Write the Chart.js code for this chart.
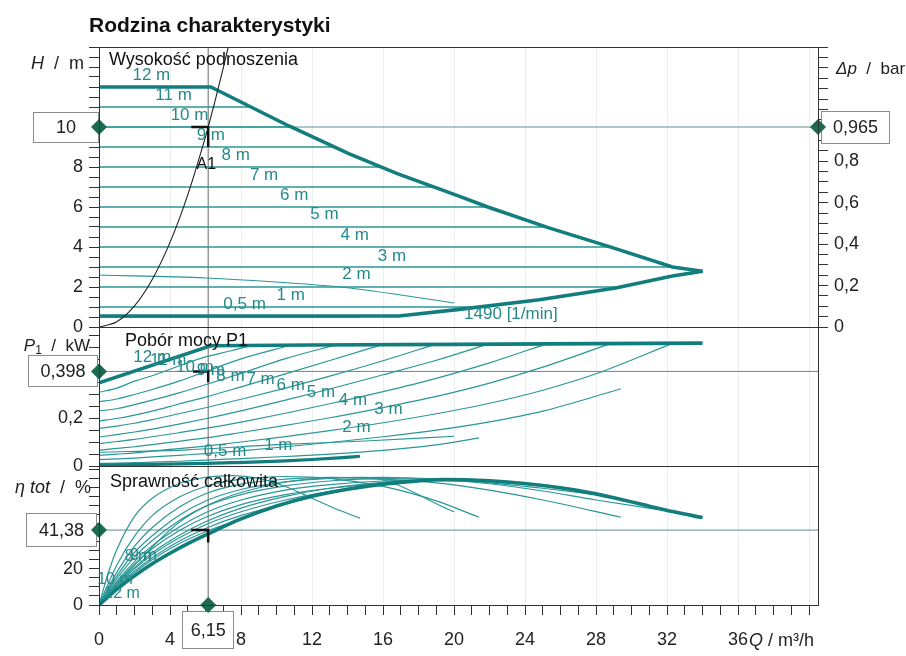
<!DOCTYPE html>
<html>
<head>
<meta charset="utf-8">
<title>Rodzina charakterystyki</title>
<script src="https://cdn.jsdelivr.net/npm/chart.js@4.4.1/dist/chart.umd.min.js"></script>
<style>
  html, body { margin: 0; padding: 0; background: #fff; }
  #wrap { position: relative; width: 906px; height: 656px; overflow: hidden; }
  #wrap canvas { position: absolute; left: 0; top: 0; }
</style>
</head>
<body>
<div id="wrap">
  <canvas id="cE" width="906" height="656"></canvas>
  <canvas id="cP" width="906" height="656"></canvas>
  <canvas id="cH" width="906" height="656"></canvas>
</div>
<script>
// ---------------- data ----------------
// constant differential pressure settings (m) and flow where each setting meets the max curve
const heads        = [12, 11, 10, 9, 8, 7, 6, 5, 4, 3, 2, 1, 0.5];
const headLineEndQ = [6.3, 8.6, 10.8, 13.3, 15.9, 18.9, 21.9, 25.2, 28.8, 32.3, 29.4, 21.4, 14.7];

// envelope of the family in the head diagram
const maxCurveQ = [0, 6.3, 10.7, 14.1, 16.8, 20.2, 21.9, 25.3, 28.7, 32.3, 34.0];
const maxCurveH = [12, 12, 10.05, 8.66, 7.67, 6.57, 6.0, 4.97, 4.03, 3.0, 2.79];
const minCurveQ = [0, 16.9, 20.3, 24.8, 29.1, 32.3, 34.0];
const minCurveH = [0.55, 0.55, 0.88, 1.36, 1.95, 2.55, 2.79];

// constant speed curve 1490 1/min
const speedQ      = [0, 6, 10, 13.6, 17, 20];
const speedH      = [2.6, 2.45, 2.25, 2.0, 1.6, 1.2];
const speedPowerQ = [0, 5, 10, 15, 20];
const speedPower  = [0.058, 0.068, 0.09, 0.105, 0.125];
const speedEtaQ   = [0, 2, 5, 10, 15, 20];
const speedEta    = [0, 22, 49, 67, 70.5, 51.5];

// system curve through the duty point
const systemQ = [0, 1, 2, 3, 4, 5, 6, 6.15, 6.5, 7, 7.28];
const systemH = [0, 0.26, 1.06, 2.38, 4.23, 6.61, 9.52, 10, 11.17, 12.96, 14];

// duty point A1
const dutyQ = 6.15, dutyH = 10, dutyP1 = 0.398, dutyEta = 41.38, dutyDp = 0.965;

// power input and efficiency along the max curve (12 m setting up to the knee)
const maxPowerQ = [0, 6.3, 12, 20, 28, 34];
const maxPower  = [0.35, 0.506, 0.509, 0.512, 0.515, 0.517];
const maxEtaQ = [0, 1, 2, 3, 4, 5, 6.3, 8, 10, 12, 14, 16, 18, 19.5, 21, 23, 25, 27, 29, 31, 32.3, 34];
const maxEta  = [0, 8.6, 16.1, 22.8, 28.6, 33.9, 40, 47.6, 54.7, 60.1, 64, 66.8, 68.6, 69.3, 69.1, 68, 66, 63.2, 59.3, 54.6, 51.6, 48.3];

// power input (kW) and total efficiency (%) of the settings 11 m ... 0,5 m
const curveQ = [
  [0, 1, 2, 3, 4.5, 6, 7.5, 8.6],
  [0, 1, 2, 3, 4.5, 6, 8, 10.8],
  [0, 1, 2, 3, 4.5, 6, 8, 10.5, 13.3],
  [0, 1, 2, 3, 4.5, 6, 8, 10.5, 13, 15.9],
  [0, 1, 2, 3, 4.5, 6, 8, 10.5, 13, 16, 18.9],
  [0, 1, 2, 3, 4.5, 6, 8, 10.5, 13, 16, 19, 21.9],
  [0, 1, 2, 3, 4.5, 6, 8, 10.5, 13, 16, 19, 22, 25.2],
  [0, 1, 2, 3, 4.5, 6, 8, 10.5, 13, 16, 19, 22, 25, 28.8],
  [0, 1, 2, 3, 4.5, 6, 8, 10.5, 13, 16, 19, 22, 25, 28, 32.3],
  [0, 1, 2, 3, 4.5, 6, 8, 10.5, 13, 16, 19, 22, 25, 29.4],
  [0, 1, 2, 3, 4.5, 6, 8, 10.5, 13, 16, 19, 21.4],
  [0, 0.5, 1, 2, 3, 4.5, 6, 7.5, 9, 10.5, 12, 13.5, 14.7]
];
const curvePower = [
  [0.31, 0.328, 0.357, 0.38, 0.421, 0.459, 0.486, 0.508],
  [0.27, 0.282, 0.301, 0.322, 0.357, 0.397, 0.451, 0.508],
  [0.232, 0.241, 0.258, 0.277, 0.308, 0.342, 0.39, 0.452, 0.509],
  [0.19, 0.2, 0.214, 0.231, 0.261, 0.29, 0.333, 0.388, 0.444, 0.51],
  [0.158, 0.168, 0.18, 0.195, 0.22, 0.245, 0.281, 0.328, 0.378, 0.443, 0.511],
  [0.122, 0.132, 0.143, 0.155, 0.176, 0.199, 0.232, 0.277, 0.324, 0.384, 0.445, 0.513],
  [0.094, 0.103, 0.112, 0.123, 0.14, 0.158, 0.185, 0.222, 0.262, 0.313, 0.369, 0.434, 0.514],
  [0.066, 0.074, 0.081, 0.09, 0.104, 0.118, 0.141, 0.171, 0.203, 0.246, 0.293, 0.349, 0.416, 0.515],
  [0.045, 0.05, 0.055, 0.063, 0.073, 0.084, 0.101, 0.124, 0.149, 0.182, 0.22, 0.264, 0.319, 0.388, 0.516],
  [0.027, 0.03, 0.033, 0.038, 0.045, 0.052, 0.064, 0.081, 0.099, 0.123, 0.151, 0.186, 0.231, 0.325],
  [0.011, 0.012, 0.014, 0.016, 0.02, 0.025, 0.031, 0.04, 0.05, 0.066, 0.089, 0.118],
  [0.0035, 0.0039, 0.0044, 0.0055, 0.0068, 0.009, 0.0114, 0.0141, 0.0172, 0.0215, 0.0273, 0.0345, 0.041]
];
const curveEta = [
  [0, 9, 16.5, 23.3, 31.5, 38.5, 45.5, 49.9],
  [0, 9.5, 17.8, 25, 33.8, 40.5, 47.5, 57],
  [0, 10, 18.7, 26.1, 35.2, 42.3, 49.5, 56, 63],
  [0, 10.7, 20, 27.8, 37, 44.3, 51.5, 58, 62.8, 66.8],
  [0, 11.2, 20.8, 28.9, 38.4, 46, 53.5, 60, 64.5, 67.8, 69.4],
  [0, 12.2, 22.5, 31.1, 41, 48.5, 55.5, 61, 64.5, 67, 68.6, 68.6],
  [0, 13, 24, 32.8, 43, 51, 58, 63.5, 66.5, 68.5, 69, 68, 65.7],
  [0, 14.5, 26.5, 35.6, 46.5, 54.5, 61, 65.8, 68.5, 69.8, 69.5, 67.5, 64.5, 60],
  [0, 16, 29, 38.3, 49.5, 57.5, 63.8, 68, 70, 70.5, 69.5, 67, 63, 58, 51.6],
  [0, 18, 32.5, 42.8, 54, 61.5, 66.8, 69.5, 70.5, 69.5, 67.5, 63.5, 58, 48.5],
  [0, 22, 38, 49.4, 59.5, 65.5, 69.5, 71, 70, 65.5, 57.5, 48.5],
  [0, 17, 30.5, 49, 59, 67, 70.5, 71.5, 70, 65.5, 59, 52.5, 48]
];

// tick labels
const hTickLabels   = [0, 2, 4, 6, 8];
const dpTickLabels  = [0, 0.2, 0.4, 0.6, 0.8];
const p1TickLabels  = [0, 0.2];
const etaTickLabels = [0, 20];
const qTickLabels   = [0, 4, 8, 12, 16, 20, 24, 28, 32, 36];

// where the setting names are written (flow, value)
const hLabelQ = [2.95, 4.2, 5.1, 6.3, 7.7, 9.3, 11.0, 12.7, 14.4, 16.5, 14.5, 10.8, 8.2];
const hLabelY = [12.56, 11.58, 10.6, 9.6, 8.6, 7.57, 6.6, 5.63, 4.57, 3.55, 2.62, 1.6, 1.15];
const pLabelQ = [3.0, 3.9, 5.4, 6.3, 7.4, 9.1, 10.8, 12.5, 14.3, 16.3, 14.5, 10.1, 7.1];
const pLabelY = [0.459, 0.445, 0.417, 0.404, 0.378, 0.364, 0.341, 0.31, 0.275, 0.24, 0.162, 0.087, 0.062];
const eLabelText = ['12 m', '8 m', '9 m', '10 m'];
const eLabelQ = [1.3, 2.2, 2.5, 0.9];
const eLabelY = [6.5, 26.5, 27.5, 14];

// ---------------- look ----------------
const FONT = '"Liberation Sans", Arial, Helvetica, sans-serif';
const TEAL = '#2a9797', TEAL_DARK = '#127d7d', LABEL = '#278a8a', MARK = '#1c6a4f', REF = '#5e8e8e', INK = '#222';
const PLOT_LEFT = 99, PLOT_RIGHT = 818, Q_MAX = 40.5;
const H_MAX = 14, P_MAX = 0.585, E_MAX = 76.8;
const dpPerMetre = dutyDp / dutyH;

Chart.defaults.font.family = FONT;
Chart.defaults.color = INK;
Chart.defaults.animation = false;

const fmt = v => String(v).replace('.', ',');
const headName = h => fmt(h) + ' m';
const pts = (qs, ys) => qs.map((q, i) => ({ x: q, y: ys[i] }));
const range = (n, step) => Array.from({ length: n + 1 }, (_, i) => +(i * step).toFixed(4));

function line(data, color, width, smooth, extra) {
  return Object.assign({
    data, borderColor: color, borderWidth: width, pointRadius: 0, fill: false,
    tension: 0, cubicInterpolationMode: smooth ? 'monotone' : 'default'
  }, extra || {});
}
function diamond(data) {
  return { data, showLine: false, pointStyle: 'rectRot', pointRadius: 8, pointHoverRadius: 8,
           backgroundColor: MARK, borderColor: MARK, borderWidth: 0, clip: false };
}

function yAxis(min, max, ticks, labels, position, width) {
  return {
    type: 'linear', position, min, max,
    afterFit: s => { s.width = width; },
    afterBuildTicks: s => { s.ticks = ticks.map(v => ({ value: v })); },
    ticks: {
      autoSkip: false, padding: 6, font: { size: 18 }, color: INK,
      callback: v => labels.some(l => Math.abs(l - v) < 1e-6) ? fmt(+v.toFixed(3)) : ''
    },
    grid: { drawOnChartArea: false, tickLength: 10, color: '#333', tickColor: '#333' },
    border: { display: true, color: '#333' }
  };
}
const faintGrid = c => (c.tick && c.tick.value > 0 && c.tick.value % 4 === 0) ? 'rgba(0,0,0,0.07)' : 'rgba(0,0,0,0)';
function hiddenX() {
  return {
    type: 'linear', min: 0, max: Q_MAX,
    afterFit: s => { s.height = 0; },
    afterBuildTicks: s => { s.ticks = range(40, 1).map(v => ({ value: v })); },
    ticks: { display: false },
    grid: { drawTicks: false, color: faintGrid },
    border: { display: false }
  };
}

// ---------- text helpers ----------
function rich(ctx, parts, x, y, align, size, color) {
  ctx.save();
  ctx.fillStyle = color; ctx.textBaseline = 'middle'; ctx.textAlign = 'left';
  const f = st => (st === 'i' ? 'italic ' : '') + (st === 'b' ? 'bold ' : '') + (st === 's' ? Math.round(size * 0.7) : size) + 'px ' + FONT;
  let total = 0;
  parts.forEach(([t, st]) => { ctx.font = f(st); total += ctx.measureText(t).width; });
  let cx = align === 'right' ? x - total : align === 'center' ? x - total / 2 : x;
  parts.forEach(([t, st]) => {
    ctx.font = f(st);
    ctx.fillText(t, cx, st === 's' ? y + size * 0.28 : y);
    cx += ctx.measureText(t).width;
  });
  ctx.restore();
}
function box(ctx, left, top, w, h, text) {
  ctx.save();
  ctx.fillStyle = '#fff'; ctx.fillRect(left, top, w, h);
  ctx.strokeStyle = '#8c8c8c'; ctx.lineWidth = 1;
  ctx.strokeRect(Math.round(left) + 0.5, Math.round(top) + 0.5, w - 1, h - 1);
  ctx.fillStyle = INK; ctx.font = '18px ' + FONT; ctx.textAlign = 'center'; ctx.textBaseline = 'middle';
  ctx.fillText(text, left + w / 2, top + h / 2 + 1);
  ctx.restore();
}
function frame(chart) {
  const a = chart.chartArea, ctx = chart.ctx;
  ctx.save(); ctx.strokeStyle = '#333'; ctx.lineWidth = 1;
  ctx.strokeRect(Math.round(a.left) + 0.5, Math.round(a.top) + 0.5, Math.round(a.right - a.left), Math.round(a.bottom - a.top));
  ctx.restore();
}
function labelsAt(chart, texts, qs, ys, size, color) {
  const ctx = chart.ctx, x = chart.scales.x, y = chart.scales.y;
  ctx.save(); ctx.font = size + 'px ' + FONT; ctx.fillStyle = color; ctx.textAlign = 'center'; ctx.textBaseline = 'middle';
  texts.forEach((t, i) => ctx.fillText(t, x.getPixelForValue(qs[i]), y.getPixelForValue(ys[i])));
  ctx.restore();
}

// ================= head diagram =================
const hSets = [];
hSets.push(diamond([{ x: 0, y: dutyH }, { x: Q_MAX, y: dutyH }]));
hSets.push(line([{ x: 5.2, y: dutyH }, { x: dutyQ, y: dutyH }, { x: dutyQ, y: 9.0 }], '#111', 2.5, false));
hSets.push(line(pts(systemQ, systemH), '#222', 1.1, true));
hSets.push(line(pts(maxCurveQ, maxCurveH), TEAL_DARK, 3.6, false));
hSets.push(line(pts(minCurveQ, minCurveH), TEAL_DARK, 3.6, false));
heads.slice(1).forEach((h, i) => {
  hSets.push(line([{ x: 0, y: h }, { x: headLineEndQ[i + 1], y: h }], TEAL, 1.3, false));
});
hSets.push(line(pts(speedQ, speedH), TEAL, 1.1, true));
hSets.push(line([{ x: 0, y: dutyH }, { x: Q_MAX, y: dutyH }], REF, 1, false));
hSets.push(line([{ x: dutyQ, y: 0 }, { x: dutyQ, y: H_MAX }], '#6a6a6a', 1, false));

new Chart(document.getElementById('cH'), {
  type: 'line',
  data: { datasets: hSets },
  options: {
    responsive: false, devicePixelRatio: 1, events: [],
    layout: { padding: { top: 47, bottom: 656 - 327, left: 0, right: 0 } },
    plugins: { legend: { display: false }, tooltip: { enabled: false } },
    scales: {
      x: hiddenX(),
      y: yAxis(0, H_MAX, range(28, 0.5), hTickLabels, 'left', PLOT_LEFT),
      dp: yAxis(0, H_MAX * dpPerMetre, range(27, 0.05), dpTickLabels, 'right', 906 - PLOT_RIGHT)
    }
  },
  plugins: [{
    id: 'headText',
    beforeDatasetsDraw(chart) {
      const y = chart.scales.y, a = chart.chartArea, ctx = chart.ctx;
      const yc = y.getPixelForValue(dutyH);
      box(ctx, 33, yc - 15.5, a.left - 33, 31, fmt(dutyH));
      box(ctx, a.right + 3, yc - 16.5, 69, 33, fmt(dutyDp));
    },
    afterDraw(chart) {
      const ctx = chart.ctx;
      frame(chart);
      rich(ctx, [['Rodzina charakterystyki', 'b']], 89, 26, 'left', 21, '#111');
      rich(ctx, [['Wysokość podnoszenia', '']], 109, 60, 'left', 18, '#111');
      rich(ctx, [['H', 'i'], ['  /  m', '']], 84, 64, 'right', 18, INK);
      rich(ctx, [['Δp', 'i'], ['  /  bar', '']], 836, 69, 'left', 17, INK);
      labelsAt(chart, heads.map(headName), hLabelQ, hLabelY, 17, LABEL);
      labelsAt(chart, ['A1'], [6.05], [8.1], 16, '#111');
      labelsAt(chart, ['1490 [1/min]'], [23.2], [0.62], 17, LABEL);
    }
  }]
});

// ================= power input =================
const pSets = [];
pSets.push(diamond([{ x: 0, y: dutyP1 }]));
pSets.push(line([{ x: 5.3, y: dutyP1 }, { x: dutyQ, y: dutyP1 }, { x: dutyQ, y: 0.352 }], '#111', 2.5, false));
pSets.push(line(pts(maxPowerQ, maxPower), TEAL_DARK, 3.6, false));
pSets.push(line(pts(curveQ[11], curvePower[11]), TEAL_DARK, 3.2, true));
curveQ.slice(0, 11).forEach((qs, i) => pSets.push(line(pts(qs, curvePower[i]), TEAL, 1.2, true)));
pSets.push(line(pts(speedPowerQ, speedPower), TEAL, 1.1, true));
pSets.push(line([{ x: 0, y: dutyP1 }, { x: Q_MAX, y: dutyP1 }], REF, 1, false));
pSets.push(line([{ x: dutyQ, y: 0 }, { x: dutyQ, y: P_MAX }], '#6a6a6a', 1, false));

new Chart(document.getElementById('cP'), {
  type: 'line',
  data: { datasets: pSets },
  options: {
    responsive: false, devicePixelRatio: 1, events: [],
    layout: { padding: { top: 327, bottom: 656 - 466, left: 0, right: 906 - PLOT_RIGHT } },
    plugins: { legend: { display: false }, tooltip: { enabled: false } },
    scales: {
      x: hiddenX(),
      y: yAxis(0, P_MAX, range(11, 0.05), p1TickLabels, 'left', PLOT_LEFT)
    }
  },
  plugins: [{
    id: 'powerText',
    beforeDatasetsDraw(chart) {
      const y = chart.scales.y, a = chart.chartArea;
      box(chart.ctx, 28, y.getPixelForValue(dutyP1) - 16, a.left - 29, 32, fmt(dutyP1));
    },
    afterDraw(chart) {
      const ctx = chart.ctx;
      frame(chart);
      rich(ctx, [['Pobór mocy P1', '']], 125, 341, 'left', 18, '#111');
      rich(ctx, [['P', 'i'], ['1', 's'], ['  /  kW', '']], 90, 346, 'right', 17, INK);
      labelsAt(chart, heads.map(headName), pLabelQ, pLabelY, 17, LABEL);
    }
  }]
});

// ================= efficiency =================
const eSets = [];
eSets.push(diamond([{ x: 0, y: dutyEta }, { x: dutyQ, y: 0 }]));
eSets.push(line([{ x: 5.2, y: dutyEta }, { x: dutyQ, y: dutyEta }, { x: dutyQ, y: 34.5 }], '#111', 2.5, false));
eSets.push(line(pts(maxEtaQ, maxEta), TEAL_DARK, 3.6, true));
curveQ.forEach((qs, i) => eSets.push(line(pts(qs, curveEta[i]), TEAL, 1.2, true)));
eSets.push(line(pts(speedEtaQ, speedEta), TEAL, 1.1, true));
eSets.push(line([{ x: 0, y: dutyEta }, { x: Q_MAX, y: dutyEta }], REF, 1, false));
eSets.push(line([{ x: dutyQ, y: 0 }, { x: dutyQ, y: E_MAX }], '#6a6a6a', 1, false));

new Chart(document.getElementById('cE'), {
  type: 'line',
  data: { datasets: eSets },
  options: {
    responsive: false, devicePixelRatio: 1, events: [],
    layout: { padding: { top: 466, bottom: 0, left: 0, right: 906 - PLOT_RIGHT } },
    plugins: { legend: { display: false }, tooltip: { enabled: false } },
    scales: {
      x: {
        type: 'linear', min: 0, max: Q_MAX,
        afterFit: s => { s.height = 51; },
        afterBuildTicks: s => { s.ticks = range(40, 1).map(v => ({ value: v })); },
        ticks: {
          autoSkip: false, maxRotation: 0, minRotation: 0, padding: 14, font: { size: 18 }, color: INK,
          callback: v => qTickLabels.includes(v) ? fmt(v) : ''
        },
        grid: { color: faintGrid, tickColor: '#333', tickLength: 10 },
        border: { display: true, color: '#333' }
      },
      y: yAxis(0, E_MAX, range(15, 5), etaTickLabels, 'left', PLOT_LEFT)
    }
  },
  plugins: [{
    id: 'etaText',
    beforeDatasetsDraw(chart) {
      const x = chart.scales.x, y = chart.scales.y, a = chart.chartArea, ctx = chart.ctx;
      box(ctx, 26, y.getPixelForValue(dutyEta) - 17, a.left - 28, 34, fmt(dutyEta));
      box(ctx, x.getPixelForValue(dutyQ) - 26, a.bottom + 6, 52, 38, fmt(dutyQ));
    },
    afterDraw(chart) {
      const ctx = chart.ctx, x = chart.scales.x;
      frame(chart);
      rich(ctx, [['Sprawność całkowita', '']], 110, 482, 'left', 18, '#111');
      rich(ctx, [['η tot', 'i'], ['  /  %', '']], 91, 488, 'right', 18, INK);
      labelsAt(chart, eLabelText, eLabelQ, eLabelY, 16, LABEL);
      rich(ctx, [['Q', 'i'], [' / m³/h', '']], x.getPixelForValue(36) + 11, 641, 'left', 18, INK);
    }
  }]
});
</script>
</body>
</html>
